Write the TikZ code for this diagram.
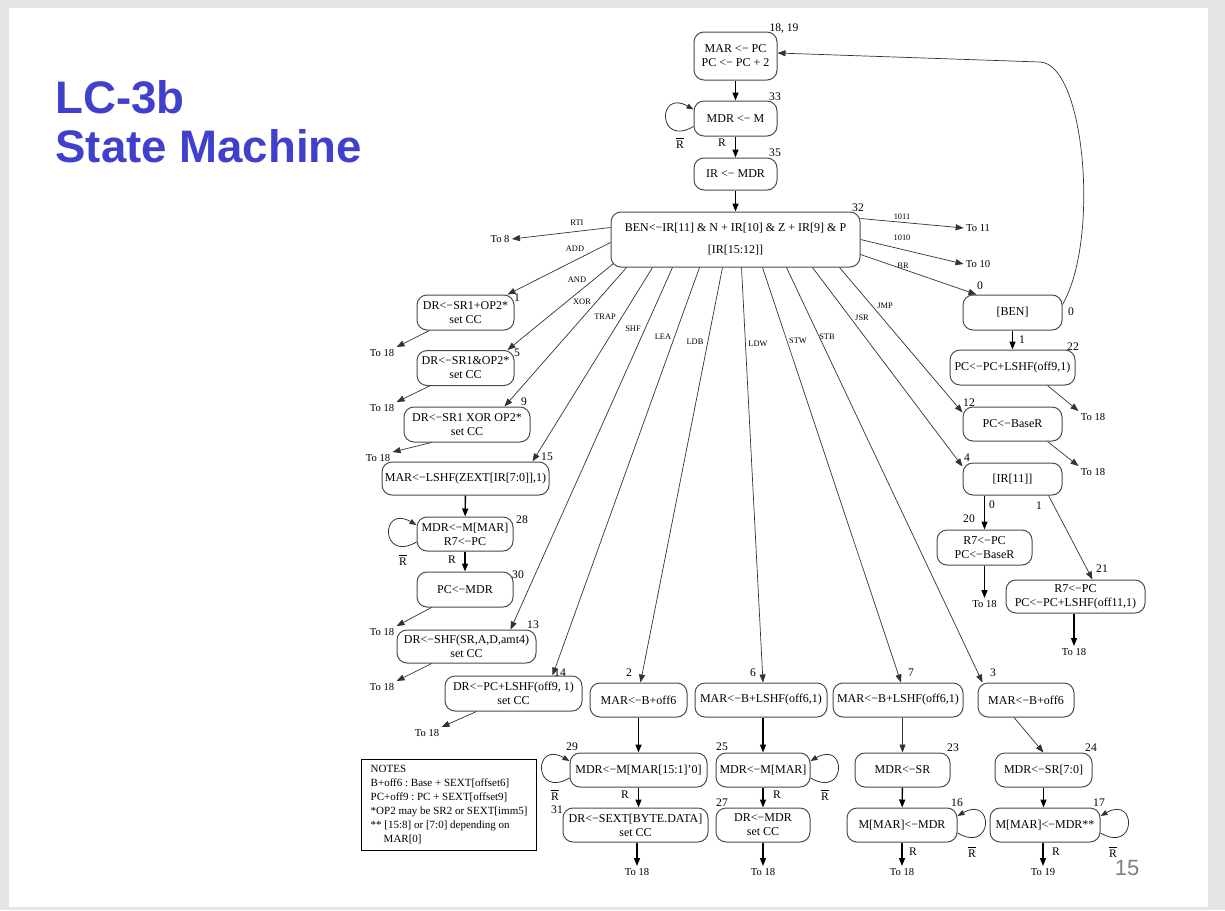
\documentclass[tikz,border=0pt]{standalone}
\usepackage{fontspec}
\setmainfont{Liberation Serif}
\newfontfamily\titlefont{Liberation Sans}
\usetikzlibrary{arrows.meta, calc}
\definecolor{lctitle}{RGB}{64,64,204}
\definecolor{lcpage}{RGB}{128,128,128}
\definecolor{lcframe}{RGB}{230,230,230}
\newcommand{\la}{<\kern0.01em−}
\newcommand{\Rbar}{$\overline{\mbox{R}}$}
\newcommand{\stfont}{\fontsize{6}{7}\selectfont}
\newcommand{\numfont}{\fontsize{5.8}{7}\selectfont}
\newcommand{\lblfont}{\fontsize{4.2}{5}\selectfont}
\newcommand{\tgtfont}{\fontsize{5.3}{6}\selectfont}
\newcommand{\notefont}{\fontsize{5.5}{7}\selectfont\frenchspacing}

\begin{document}
\begin{tikzpicture}[x=0.5pt, y=-0.5pt,
    st/.style={draw=black!70, line width=0.5pt, rounded corners=5pt, align=center, font=\stfont, inner sep=1pt},
    num/.style={font=\numfont, inner sep=0pt},
    lbl/.style={font=\lblfont, inner sep=0pt},
    tgt/.style={font=\tgtfont, inner sep=1pt},
    arr/.style={-{Triangle[length=4pt,width=3pt]}, line width=0.7pt},
    farr/.style={-{Triangle[length=4pt,width=3pt]}, line width=0.35pt, black!80},
    lp/.style={-{Triangle[length=3.5pt,width=2.6pt]}, line width=0.4pt, black!80, distance=21pt},
  ]
  \useasboundingbox (0,0) rectangle (1225,910);
  \fill[lcframe] (0,0) rectangle (1225,910);
  \fill[white] (9,8) rectangle (1208,907);

  % title and page number
  \node[anchor=base west, inner sep=0pt, text=lctitle, font=\titlefont\bfseries\fontsize{22.8}{26}\selectfont] (ttl1) at (55,113) {LC-3b};
  \node[anchor=base west, inner sep=0pt, text=lctitle, font=\titlefont\bfseries\fontsize{22.8}{26}\selectfont] (ttl2) at (55,162) {State Machine};
  \node[inner sep=0pt, text=lcpage, font=\titlefont\fontsize{11}{13}\selectfont] (pg) at (1127,868) {15};

  % fetch and decode
  \node[st, minimum width=41.5pt, minimum height=24pt] (s18) at (735.5,56) {MAR \la{} PC\\PC \la{} PC + 2};
  \node[st, minimum width=41.5pt, minimum height=17.5pt] (s33) at (735.5,118.5) {MDR \la{} M};
  \node[st, minimum width=41.5pt, minimum height=16pt] (s35) at (735.5,174) {IR \la{} MDR};
  \node[st, minimum width=124.5pt, minimum height=27.5pt] (s32) at (735.5,239.5) {BEN\la{}IR[11] \& N + IR[10] \& Z + IR[9] \& P\\[4pt]{[IR[15:12]]}};

  % branch and jumps
  \node[st, minimum width=49.5pt, minimum height=17.5pt] (s0) at (1012.5,312.5) {[BEN]};
  \node[st, minimum width=62.5pt, minimum height=17.5pt] (s22) at (1012.5,367.5) {PC\la{}PC+LSHF(off9,1)};
  \node[st, minimum width=49.5pt, minimum height=17pt] (s12) at (1012.5,424) {PC\la{}BaseR};
  \node[st, minimum width=49.5pt, minimum height=16pt] (s4) at (1012.5,479) {[IR[11]]};
  \node[st, minimum width=47.5pt, minimum height=17.5pt] (s20) at (984.5,547.5) {R7\la{}PC\\PC\la{}BaseR};
  \node[st, minimum width=69.5pt, minimum height=16.5pt] (s21) at (1075.5,596.5) {R7\la{}PC\\PC\la{}PC+LSHF(off11,1)};

  % operates, trap, shift, lea
  \node[st, minimum width=48.5pt, minimum height=17.5pt] (s1) at (465.5,312.5) {DR\la{}SR1+OP2*\\set CC};
  \node[st, minimum width=48.5pt, minimum height=17.5pt] (s5) at (465.5,368) {DR\la{}SR1\&OP2*\\set CC};
  \node[st, minimum width=63pt, minimum height=17.5pt] (s9) at (467,424.5) {DR\la{}SR1 XOR OP2*\\set CC};
  \node[st, minimum width=83.5pt, minimum height=16.5pt] (s15) at (465.5,478.5) {MAR\la{}LSHF(ZEXT[IR[7:0]],1)};
  \node[st, minimum width=48pt, minimum height=17pt] (s28) at (465,534) {MDR\la{}M[MAR]\\R7\la{}PC};
  \node[st, minimum width=48pt, minimum height=17.5pt] (s30) at (465,589.5) {PC\la{}MDR};
  \node[st, minimum width=69.5pt, minimum height=16.5pt] (s13) at (466.5,646.5) {DR\la{}SHF(SR,A,D,amt4)\\set CC};
  \node[st, minimum width=68.5pt, minimum height=17.5pt] (s14) at (513.5,693.5) {DR\la{}PC+LSHF(off9, 1)\\set CC};

  % loads and stores
  \node[st, minimum width=48.5pt, minimum height=17pt] (s2) at (638.5,700) {MAR\la{}B+off6};
  \node[st, minimum width=66pt, minimum height=17pt] (s6) at (761,700) {MAR\la{}B+LSHF(off6,1)};
  \node[st, minimum width=65pt, minimum height=17pt] (s7) at (898,700) {MAR\la{}B+LSHF(off6,1)};
  \node[st, minimum width=48pt, minimum height=17pt] (s3) at (1026,700) {MAR\la{}B+off6};
  \node[st, minimum width=68.5pt, minimum height=17pt] (s29) at (638.5,770) {MDR\la{}M[MAR[15:1]'0]};
  \node[st, minimum width=47pt, minimum height=17pt] (s25) at (763,770) {MDR\la{}M[MAR]};
  \node[st, minimum width=47.5pt, minimum height=17pt] (s23) at (902.5,770) {MDR\la{}SR};
  \node[st, minimum width=48.5pt, minimum height=17pt] (s24) at (1043.5,770) {MDR\la{}SR[7:0]};
  \node[st, minimum width=72.5pt, minimum height=17pt] (s31) at (635.5,825) {DR\la{}SEXT[BYTE.DATA]\\set CC};
  \node[st, minimum width=47pt, minimum height=17pt] (s27) at (763,825) {DR\la{}MDR\\set CC};
  \node[st, minimum width=55pt, minimum height=17pt] (s16) at (902,825) {M[MAR]\la{}MDR};
  \node[st, minimum width=55pt, minimum height=17pt] (s17) at (1045,825) {M[MAR]\la{}MDR**};

  % notes
  \node[draw=black, line width=0.6pt, anchor=north west, minimum width=87.5pt, minimum height=45pt, inner sep=3pt, align=left, font=\notefont] (notes) at (361,759)
    {NOTES\\B+off6 : Base + SEXT[offset6]\\PC+off9 : PC + SEXT[offset9]\\{*}OP2 may be SR2 or SEXT[imm5]\\{**} [15:8] or [7:0] depending on\\\hspace*{6.5pt}MAR[0]};

  % state numbers
  \node[num] (n18) at (784,29) {18, 19};
  \node[num] (n33) at (775,97) {33};
  \node[num] (n35) at (775,153) {35};
  \node[num] (n32) at (858,208) {32};
  \node[num] (n0) at (980,286) {0};
  \node[num] (n22) at (1073,347) {22};
  \node[num] (n12) at (969,403) {12};
  \node[num] (n4) at (967,458) {4};
  \node[num] (n20) at (969,519) {20};
  \node[num] (n21) at (1102,569) {21};
  \node[num] (n1) at (517,298) {1};
  \node[num] (n5) at (517,353) {5};
  \node[num] (n9) at (524,402) {9};
  \node[num] (n15) at (547,457) {15};
  \node[num] (n28) at (522,520) {28};
  \node[num] (n30) at (518,575) {30};
  \node[num] (n13) at (533,625) {13};
  \node[num] (n14) at (560,673) {14};
  \node[num] (n2) at (629,673) {2};
  \node[num] (n6) at (753,673) {6};
  \node[num] (n7) at (911,673) {7};
  \node[num] (n3) at (993,673) {3};
  \node[num] (n29) at (572,747) {29};
  \node[num] (n25) at (722,747) {25};
  \node[num] (n23) at (953,748) {23};
  \node[num] (n24) at (1091,748) {24};
  \node[num] (n31) at (557,810) {31};
  \node[num] (n27) at (722,803) {27};
  \node[num] (n16) at (957,803) {16};
  \node[num] (n17) at (1099,803) {17};

  % ready conditions and branch outcomes
  \node[num] (r33b) at (680,143) {\Rbar};
  \node[num] (r33) at (722,143) {R};
  \node[num] (r28b) at (403,560) {\Rbar};
  \node[num] (r28) at (452,560) {R};
  \node[num] (r29b) at (555,795) {\Rbar};
  \node[num] (r29) at (625,795) {R};
  \node[num] (r25b) at (825,795) {\Rbar};
  \node[num] (r25) at (777,795) {R};
  \node[num] (r16b) at (972,852) {\Rbar};
  \node[num] (r16) at (913,852) {R};
  \node[num] (r17b) at (1113,852) {\Rbar};
  \node[num] (r17) at (1056,852) {R};
  \node[num] (b0) at (1071,312) {0};
  \node[num] (b1) at (1022,340) {1};
  \node[num] (i0) at (992,505) {0};
  \node[num] (i1) at (1039,506) {1};

  % opcode labels
  \node[lbl] (lrti) at (577,223) {RTI};
  \node[lbl] (ladd) at (575,249) {ADD};
  \node[lbl] (land) at (577,280) {AND};
  \node[lbl] (lxor) at (582,302) {XOR};
  \node[lbl] (ltrap) at (605,317) {TRAP};
  \node[lbl] (lshf) at (633,329) {SHF};
  \node[lbl] (llea) at (663,337) {LEA};
  \node[lbl] (lldb) at (695,342) {LDB};
  \node[lbl] (lldw) at (758,344) {LDW};
  \node[lbl] (lstw) at (798,341) {STW};
  \node[lbl] (lstb) at (827,337) {STB};
  \node[lbl] (ljsr) at (862,318) {JSR};
  \node[lbl] (ljmp) at (885,306) {JMP};
  \node[lbl] (l1011) at (902,217) {1011};
  \node[lbl] (l1010) at (902,238) {1010};
  \node[lbl] (lbr) at (903,266) {BR};

  % next-state targets
  \node[tgt] (t8) at (500,239) {To 8};
  \node[tgt] (t11) at (978,228) {To 11};
  \node[tgt] (t10) at (978,264) {To 10};
  \node[tgt] (t1) at (382,353) {To 18};
  \node[tgt] (t5) at (382,408) {To 18};
  \node[tgt] (t9) at (378,458) {To 18};
  \node[tgt] (t30) at (382,632) {To 18};
  \node[tgt] (t13) at (382,687) {To 18};
  \node[tgt] (t14) at (427,733) {To 18};
  \node[tgt] (t22) at (1093,417) {To 18};
  \node[tgt] (t12) at (1093,472) {To 18};
  \node[tgt] (t20) at (984.5,604) {To 18};
  \node[tgt] (t21) at (1074,652) {To 18};
  \node[tgt] (t31) at (637,872) {To 18};
  \node[tgt] (t27) at (763,872) {To 18};
  \node[tgt] (t16) at (902,872) {To 18};
  \node[tgt] (t17) at (1043,872) {To 19};

  % fetch
  \draw[arr] (s18) -- (s33);
  \draw[arr] (s33) -- (s35);
  \draw[arr] (s35) -- (s32);
  \draw[lp] ([yshift=-4pt]s33.west) to[out=210,in=150] ([yshift=4.5pt]s33.west);

  % decode
  \draw[farr] ([yshift=6pt]s32.west) -- (t8.east);
  \draw[farr] ([yshift=-1.5pt]s32.west) -- ([xshift=-3.5pt]s1.north east);
  \draw[farr] ([xshift=1.5pt,yshift=2pt]s32.south west) -- ([xshift=-3.5pt]s5.north east);
  \draw[farr] ([xshift=8pt]s32.south west) -- ([xshift=-13pt]s9.north east);
  \draw[farr] ([xshift=21pt]s32.south west) -- ([xshift=-8.5pt]s15.north east);
  \draw[farr] ([xshift=31pt]s32.south west) -- ([xshift=-13pt]s13.north east);
  \draw[farr] ([xshift=44.5pt]s32.south west) -- ([xshift=-15pt]s14.north east);
  \draw[farr] ([xshift=56pt]s32.south west) -- ([xshift=1pt]s2.north);
  \draw[farr] ([xshift=65.5pt]s32.south west) -- ([xshift=1pt]s6.north);
  \draw[farr] ([xshift=76pt]s32.south west) -- ([xshift=1.5pt]s7.north);
  \draw[farr] ([xshift=88pt]s32.south west) -- ([xshift=2.5pt]s3.north west);
  \draw[farr] ([xshift=101pt]s32.south west) -- ([yshift=-2pt]s4.north west);
  \draw[farr] ([xshift=114.5pt]s32.south west) -- ([yshift=-3pt]s12.north west);
  \draw[farr] ([yshift=10.5pt]s32.east) -- (t11.west);
  \draw[farr] (s32.east) -- (t10.west);
  \draw[farr] ([yshift=-7.5pt]s32.east) -- ([xshift=7pt]s0.north west);

  % branch, jumps
  \draw[farr] ([yshift=4pt]s0.east) .. controls (1100,240) and (1085,64) .. (1040,62) -- ([yshift=1.5pt]s18.east);
  \draw[arr] (s0) -- (s22);
  \draw[farr] ([xshift=-14pt]s22.south east) -- (t22.north west);
  \draw[farr] ([xshift=-7.5pt]s12.south east) -- (t12.north west);
  \draw[arr] (s4.south -| s20.north) -- (s20.north);
  \draw[farr] ([xshift=-7pt]s4.south east) -- ([xshift=8.5pt]s21.north);
  \draw[arr] (s20) -- (t20);
  \draw[arr] (s21.south -| t21.north) -- (t21.north);

  % left column
  \draw[farr] ([xshift=6.5pt]s1.south west) -- (t1.north east);
  \draw[farr] ([xshift=6.5pt]s5.south west) -- (t5.north east);
  \draw[farr] ([xshift=14pt]s9.south west) -- (t9.north east);
  \draw[arr] (s15) -- (s28);
  \draw[lp] ([yshift=-4pt]s28.west) to[out=210,in=150] ([yshift=4.5pt]s28.west);
  \draw[arr] (s28) -- (s30);
  \draw[farr] ([xshift=7.5pt]s30.south west) -- (t30.north east);
  \draw[farr] ([xshift=17.5pt]s13.south west) -- (t13.north east);
  \draw[farr] ([xshift=16pt]s14.south west) -- (t14.north east);

  % memory access
  \draw[arr] (s2.south) -- (s2.south |- s29.north);
  \draw[arr] (s6.south -| s25.north) -- (s25.north);
  \draw[farr] (s7.south -| s23.north) -- (s23.north);
  \draw[farr] ([xshift=-6pt]s3.south) -- (s24.north);
  \draw[lp] ([yshift=-4pt]s29.west) to[out=210,in=150] ([yshift=4.5pt]s29.west);
  \draw[lp] ([yshift=-4pt]s25.east) to[out=-30,in=30] ([yshift=4.5pt]s25.east);
  \draw[lp] ([yshift=-4pt]s16.east) to[out=-30,in=30] ([yshift=4.5pt]s16.east);
  \draw[lp] ([yshift=-4pt]s17.east) to[out=-30,in=30] ([yshift=4.5pt]s17.east);
  \draw[arr] (s29.south) -- (s29.south |- s31.north);
  \draw[arr] (s25) -- (s27);
  \draw[arr] (s23) -- (s16);
  \draw[arr] (s24.south) -- (s24.south |- s17.north);
  \draw[arr] (s31.south -| t31.north) -- (t31.north);
  \draw[arr] (s27) -- (t27);
  \draw[arr] (s16) -- (t16);
  \draw[arr] (s17.south -| t17.north) -- (t17.north);
\end{tikzpicture}
\end{document}
